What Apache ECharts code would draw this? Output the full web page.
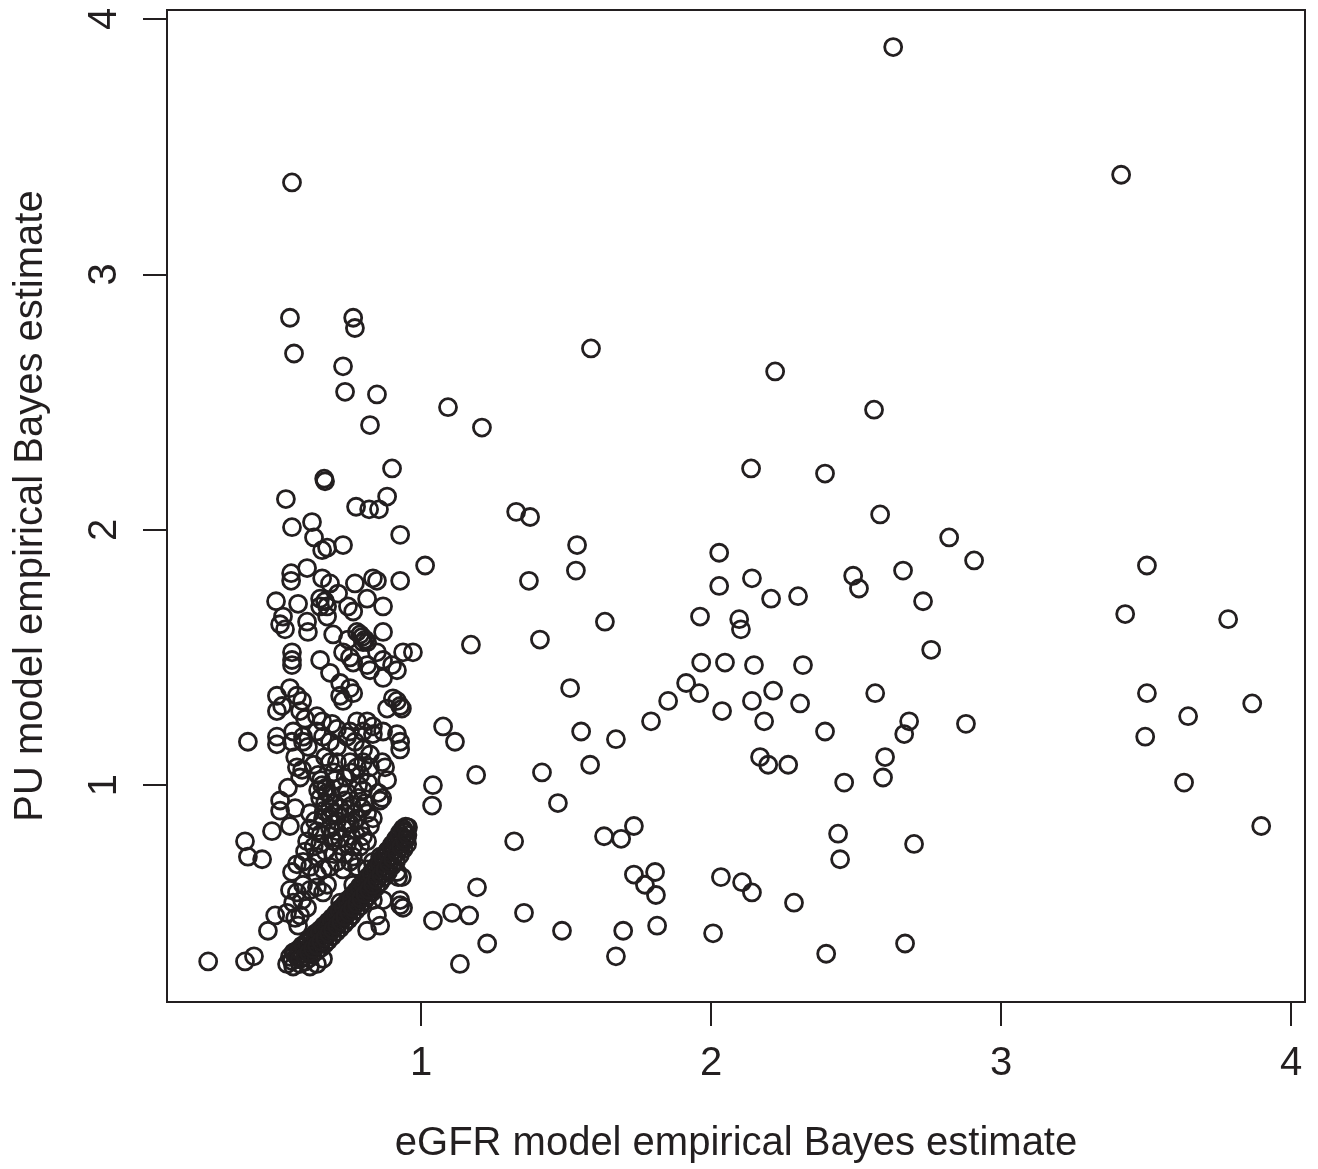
<!DOCTYPE html>
<html>
<head>
<meta charset="utf-8">
<script src="https://cdn.jsdelivr.net/npm/echarts@6/dist/echarts.min.js"></script>
<style>
html,body{margin:0;padding:0;background:#fff;}
#chart{width:1318px;height:1169px;}
</style>
</head>
<body>
<div id="chart"></div>
<script>
// Tick values
const xTicks = [1, 2, 3, 4];
const yTicks = [1, 2, 3, 4];
const xTitle = 'eGFR model empirical Bayes estimate';
const yTitle = 'PU model empirical Bayes estimate';

// Scattered points, eGFR > ~1
const outerPoints = [
  [2.628,3.89],[3.414,3.39],[1.586,2.71],[2.221,2.62],[1.093,2.48],[2.562,2.47],[1.210,2.40],
  [2.138,2.24],[2.393,2.22],[1.328,2.07],[1.376,2.05],[2.583,2.06],[2.821,1.97],[1.538,1.94],
  [2.028,1.91],[2.907,1.88],[1.014,1.86],[1.534,1.84],[2.662,1.84],[3.503,1.86],[2.490,1.82],
  [2.510,1.77],[1.372,1.80],[2.141,1.81],[2.028,1.78],[2.207,1.73],[2.300,1.74],[2.731,1.72],
  [3.428,1.67],[3.783,1.65],[1.962,1.66],[2.097,1.65],[2.103,1.61],[1.634,1.64],[1.410,1.57],
  [1.172,1.55],[2.759,1.53],[1.966,1.48],[2.048,1.48],[2.148,1.47],[2.317,1.47],[1.914,1.40],
  [1.514,1.38],[1.959,1.36],[2.214,1.37],[2.566,1.36],[3.503,1.36],[1.852,1.33],[2.141,1.33],
  [2.307,1.32],[3.866,1.32],[2.038,1.29],[3.645,1.27],[1.793,1.25],[2.183,1.25],[2.683,1.25],
  [2.879,1.24],[1.076,1.23],[1.117,1.17],[1.552,1.21],[2.393,1.21],[2.666,1.20],[1.672,1.18],
  [3.497,1.19],[2.169,1.11],[2.600,1.11],[2.197,1.08],[2.266,1.08],[1.583,1.08],[1.417,1.05],
  [1.190,1.04],[2.593,1.03],[2.459,1.01],[3.631,1.01],[1.041,1.00],[1.038,0.92],[1.472,0.93],
  [3.897,0.84],[1.734,0.84],[2.438,0.81],[1.631,0.80],[1.690,0.79],[1.321,0.78],[2.700,0.77],
  [2.445,0.71],[1.807,0.66],[1.734,0.65],[2.034,0.64],[2.107,0.62],[1.772,0.61],[1.193,0.60],
  [1.810,0.57],[2.141,0.58],[2.286,0.54],[1.355,0.50],[1.107,0.50],[1.166,0.49],[1.041,0.47],
  [1.814,0.45],[1.486,0.43],[1.697,0.43],[2.007,0.42],[1.228,0.38],[2.669,0.38],[2.397,0.34],
  [1.672,0.33],[1.134,0.30]
];

// Dense group, upper part
const clusterUpper = [
  [0.555,3.36],[0.548,2.83],[0.766,2.83],[0.772,2.79],[0.562,2.69],[0.731,2.64],[0.738,2.54],
  [0.848,2.53],[0.824,2.41],[0.900,2.24],[0.666,2.20],[0.669,2.19],[0.534,2.12],[0.883,2.13],
  [0.776,2.09],[0.821,2.08],[0.855,2.08],[0.555,2.01],[0.624,2.03],[0.928,1.98],[0.631,1.97],
  [0.731,1.94],[0.659,1.92],[0.676,1.93]
];

// Dense group, middle part
const clusterMiddle = [
  [0.552,1.83],[0.552,1.80],[0.607,1.85],[0.659,1.81],[0.686,1.79],[0.772,1.79],[0.834,1.81],
  [0.848,1.80],[0.928,1.80],[0.500,1.72],[0.576,1.71],[0.652,1.73],[0.669,1.72],[0.714,1.75],
  [0.814,1.73],[0.869,1.70],[0.652,1.70],[0.676,1.70],[0.748,1.70],[0.766,1.68],[0.524,1.66],
  [0.514,1.63],[0.531,1.61],[0.607,1.64],[0.610,1.60],[0.676,1.66],[0.697,1.59],[0.748,1.57],
  [0.779,1.60],[0.797,1.58],[0.800,1.56],[0.814,1.56],[0.790,1.59],[0.807,1.57],[0.869,1.60],
  [0.555,1.52],[0.555,1.49],[0.555,1.47],[0.652,1.49],[0.686,1.44],[0.731,1.52],[0.755,1.50],
  [0.766,1.48],[0.814,1.47],[0.824,1.45],[0.848,1.52],[0.869,1.49],[0.869,1.42],[0.900,1.47],
  [0.917,1.45],[0.938,1.52],[0.972,1.52],[0.721,1.40],[0.721,1.35],[0.731,1.33],[0.755,1.38],
  [0.766,1.36],[0.548,1.38],[0.572,1.35],[0.590,1.33],[0.503,1.35],[0.521,1.31],[0.503,1.29],
  [0.583,1.29],[0.600,1.26],[0.641,1.27],[0.659,1.25],[0.903,1.34],[0.917,1.33],[0.928,1.31],
  [0.934,1.30],[0.883,1.30],[0.693,1.24],[0.710,1.22],[0.779,1.25],[0.814,1.25],[0.834,1.23],
  [0.755,1.21],[0.800,1.21],[0.503,1.19],[0.559,1.21],[0.593,1.19],[0.641,1.21],[0.869,1.21],
  [0.917,1.20]
];

// Dense group, lower part
const clusterLower = [
  [0.403,1.17],[0.503,1.16],[0.555,1.17],[0.593,1.17],[0.610,1.15],[0.662,1.19],[0.686,1.17],
  [0.710,1.15],[0.745,1.19],[0.772,1.17],[0.800,1.14],[0.824,1.12],[0.834,1.20],[0.928,1.17],
  [0.928,1.14],[0.566,1.11],[0.572,1.07],[0.590,1.06],[0.583,1.03],[0.669,1.11],[0.686,1.09],
  [0.710,1.09],[0.755,1.09],[0.779,1.07],[0.800,1.09],[0.824,1.07],[0.866,1.09],[0.876,1.07],
  [0.541,0.99],[0.645,1.04],[0.659,1.00],[0.645,0.98],[0.676,0.97],[0.652,0.95],[0.669,0.93],
  [0.686,0.91],[0.703,1.02],[0.721,0.99],[0.745,0.97],[0.738,0.94],[0.783,1.00],[0.800,0.98],
  [0.783,0.95],[0.807,0.93],[0.797,0.91],[0.817,1.01],[0.852,0.97],[0.866,0.95],[0.859,0.94],
  [0.883,1.02],[0.514,0.94],[0.514,0.90],[0.566,0.91],[0.617,0.89],[0.634,0.86],[0.617,0.83],
  [0.641,0.82],[0.662,0.87],[0.686,0.88],[0.710,0.86],[0.686,0.83],[0.710,0.82],[0.731,0.83],
  [0.755,0.85],[0.779,0.87],[0.790,0.83],[0.800,0.80],[0.814,0.89],[0.834,0.87],[0.824,0.84],
  [0.486,0.82],[0.548,0.84],[0.393,0.78],[0.403,0.72],[0.452,0.71],[0.607,0.78],[0.652,0.77],
  [0.697,0.78],[0.745,0.77],[0.766,0.76],[0.790,0.76],[0.814,0.78],[0.555,0.66],[0.572,0.69],
  [0.593,0.70],[0.617,0.68],[0.641,0.65],[0.662,0.67],[0.686,0.68],[0.710,0.70],[0.731,0.67],
  [0.755,0.70],[0.779,0.68],[0.548,0.59],[0.572,0.58],[0.593,0.61],[0.617,0.59],[0.641,0.60],
  [0.662,0.58],[0.676,0.61],[0.559,0.54],[0.590,0.55],[0.607,0.52],[0.583,0.49],[0.497,0.49],
  [0.538,0.50],[0.566,0.48],[0.576,0.45],[0.472,0.43],[0.721,0.54],[0.731,0.50],[0.766,0.61],
  [0.814,0.67],[0.834,0.70],[0.859,0.72],[0.883,0.74],[0.917,0.66],[0.934,0.64],[0.921,0.64],
  [0.928,0.55],[0.928,0.53],[0.938,0.52],[0.814,0.43],[0.859,0.45],[0.869,0.55],[0.848,0.49],
  [0.834,0.55],[0.538,0.30],[0.559,0.29],[0.583,0.30],[0.617,0.29],[0.641,0.30],[0.662,0.32],
  [0.266,0.31],[0.393,0.31],[0.424,0.33],[0.952,0.77],
  [0.655,1.02],[0.672,0.99],[0.690,0.96],[0.700,0.93],[0.665,0.90],[0.700,0.89],[0.720,0.91],
  [0.735,0.89],[0.760,0.92],[0.770,0.89],[0.745,0.85],[0.690,0.80],[0.720,0.79],[0.760,0.80],
  [0.655,0.81],[0.630,0.76],[0.600,0.74],[0.640,0.72],[0.670,0.74],[0.700,0.73],[0.735,0.73],
  [0.765,0.72],[0.630,1.08],[0.700,1.05],[0.740,1.03],[0.760,1.05],[0.790,1.04]
];

// The dark diagonal band of overlapping points
const band = [
  [0.555,0.312],[0.572,0.328],[0.590,0.339],[0.603,0.355],[0.617,0.370],[0.631,0.382],[0.645,0.398],
  [0.659,0.413],[0.672,0.429],[0.686,0.445],[0.700,0.460],[0.714,0.476],[0.728,0.495],[0.741,0.511],
  [0.755,0.531],[0.769,0.546],[0.783,0.566],[0.797,0.585],[0.810,0.601],[0.824,0.620],[0.838,0.640],
  [0.852,0.659],[0.866,0.679],[0.879,0.702],[0.893,0.722],[0.907,0.745],[0.921,0.768],[0.934,0.792],
  [0.945,0.815],[0.955,0.835],
  [0.560,0.345],[0.575,0.355],[0.590,0.372],[0.607,0.388],[0.621,0.403],[0.636,0.420],[0.651,0.433],
  [0.665,0.450],[0.680,0.466],[0.693,0.481],[0.707,0.498],[0.721,0.516],[0.735,0.532],[0.748,0.551],
  [0.762,0.567],[0.776,0.586],[0.789,0.604],[0.803,0.622],[0.817,0.641],[0.831,0.661],[0.845,0.682],
  [0.858,0.701],[0.872,0.724],[0.886,0.745],[0.900,0.768],[0.914,0.790],[0.926,0.812],[0.938,0.830],
  [0.600,0.310],[0.614,0.322],[0.626,0.337],[0.640,0.350],[0.654,0.362],[0.668,0.378],[0.680,0.392],
  [0.694,0.408],[0.708,0.425],[0.721,0.440],[0.735,0.456],[0.750,0.474],[0.762,0.490],[0.776,0.510],
  [0.790,0.526],[0.804,0.545],[0.818,0.565],[0.831,0.581],[0.845,0.600],[0.859,0.620],[0.873,0.640],
  [0.886,0.660],[0.900,0.683],[0.914,0.703],[0.927,0.726],[0.940,0.750],[0.950,0.790],
  [0.548,0.328],[0.564,0.340],[0.581,0.352],[0.595,0.367],[0.608,0.382],[0.622,0.395],[0.636,0.410],
  [0.650,0.424],[0.663,0.440],[0.677,0.456],[0.691,0.471],[0.705,0.487],[0.719,0.506],[0.732,0.522],
  [0.746,0.541],[0.760,0.557],[0.774,0.577],[0.788,0.595],[0.801,0.612],[0.815,0.631],[0.829,0.651],
  [0.843,0.670],[0.857,0.690],[0.870,0.713],[0.884,0.733],[0.898,0.757],[0.912,0.779],[0.925,0.802],
  [0.937,0.822],[0.947,0.838],
  [0.582,0.318],[0.600,0.329],[0.613,0.345],[0.627,0.360],[0.641,0.372],[0.655,0.388],[0.669,0.403],
  [0.682,0.419],[0.696,0.435],[0.710,0.450],[0.724,0.466],[0.738,0.485],[0.751,0.501],[0.765,0.521],
  [0.779,0.536],[0.793,0.556],[0.807,0.575],[0.820,0.591],[0.834,0.610],[0.848,0.630],[0.862,0.649],
  [0.876,0.669],[0.889,0.692],[0.903,0.712],[0.917,0.735],[0.931,0.758],[0.944,0.782],[0.953,0.805]
];

const allPoints = outerPoints.concat(clusterUpper, clusterMiddle, clusterLower, band);

const ink = '#231f20';
const font = "'Liberation Sans', Arial, Helvetica, sans-serif";

const chart = echarts.init(document.getElementById('chart'), null, {renderer: 'canvas'});
chart.setOption({
  animation: false,
  backgroundColor: '#ffffff',
  grid: {
    left: 167, right: 13, top: 10, bottom: 166,
    show: true, borderColor: ink, borderWidth: 2, backgroundColor: 'transparent'
  },
  xAxis: {
    type: 'value', min: 0.124, max: 4.048,
    axisLine: {show: false},
    splitLine: {show: false},
    axisTick: {show: true, customValues: xTicks, length: 24, lineStyle: {color: ink, width: 2}},
    axisLabel: {customValues: xTicks, margin: 42, fontSize: 40, color: ink, fontFamily: font},
    name: xTitle, nameLocation: 'middle', nameGap: 122,
    nameTextStyle: {fontSize: 40, color: ink, fontFamily: font}
  },
  yAxis: {
    type: 'value', min: 0.151, max: 4.035,
    axisLine: {show: false},
    splitLine: {show: false},
    axisTick: {show: true, customValues: yTicks, length: 24, lineStyle: {color: ink, width: 2}},
    axisLabel: {customValues: yTicks, margin: 42, rotate: 90, fontSize: 40, color: ink, fontFamily: font},
    name: yTitle, nameLocation: 'middle', nameGap: 116,
    nameTextStyle: {fontSize: 40, color: ink, fontFamily: font}
  },
  series: [{
    type: 'scatter',
    data: allPoints,
    symbol: 'circle',
    symbolSize: 17,
    itemStyle: {color: 'rgba(0,0,0,0)', borderColor: ink, borderWidth: 2.8, opacity: 1},
    emphasis: {disabled: true},
    silent: true
  }]
});
</script>
</body>
</html>
